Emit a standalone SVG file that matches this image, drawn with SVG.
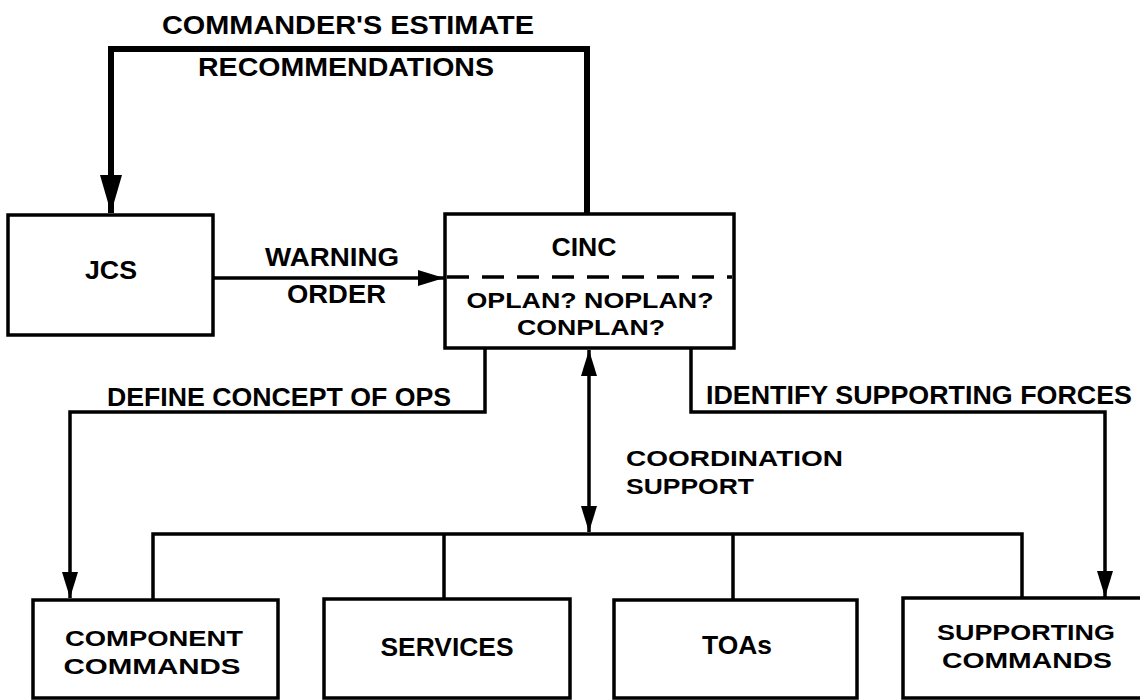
<svg xmlns="http://www.w3.org/2000/svg" width="1140" height="700" viewBox="0 0 1140 700">
<defs>
<style>
.box{fill:#fff;stroke:#000;stroke-width:3.5}
.ln{fill:none;stroke:#000;stroke-width:3.5}
.thick{fill:none;stroke:#000;stroke-width:6}
.dash{fill:none;stroke:#000;stroke-width:3.5;stroke-dasharray:22 13}
text{font-family:"Liberation Sans",Arial,Helvetica,sans-serif;font-weight:bold;font-size:25px;fill:#000}
.c{text-anchor:middle}
.s{font-size:22.5px}
</style>
<marker id="arr" markerUnits="userSpaceOnUse" markerWidth="27" markerHeight="16" refX="26" refY="8" orient="auto-start-reverse">
<path d="M0,0 L26,8 L0,16 z" fill="#000"/>
</marker>
<marker id="arrBig" markerUnits="userSpaceOnUse" markerWidth="39" markerHeight="22" refX="38" refY="11" orient="auto">
<path d="M0,0 L38,11 L0,22 z" fill="#000"/>
</marker>
</defs>
<rect width="1140" height="700" fill="#fff"/>

<g id="connectors">
<path class="thick" d="M587,214 V49 H111 V213" marker-end="url(#arrBig)"/>
<path class="ln" d="M213,278 H444" marker-end="url(#arr)"/>
<path class="ln" d="M485,348 V412 H70 V598" marker-end="url(#arr)"/>
<path class="ln" d="M691,348 V412 H1105 V597" marker-end="url(#arr)"/>
<path class="ln" d="M589,350 V532" marker-start="url(#arr)" marker-end="url(#arr)"/>
<path class="ln" d="M153,600 V534 H1022 V600"/>
<path class="ln" d="M444,534 V600"/>
<path class="ln" d="M733,534 V600"/>
</g>

<g id="labels">
<text class="c" x="348" y="34" textLength="372" lengthAdjust="spacingAndGlyphs">COMMANDER'S ESTIMATE</text>
<text class="c" x="346" y="76" textLength="296" lengthAdjust="spacingAndGlyphs">RECOMMENDATIONS</text>
<text x="265" y="266" textLength="134" lengthAdjust="spacingAndGlyphs">WARNING</text>
<text x="287" y="303" textLength="99" lengthAdjust="spacingAndGlyphs">ORDER</text>
<text x="107" y="406" textLength="344" lengthAdjust="spacingAndGlyphs">DEFINE CONCEPT OF OPS</text>
<text x="706" y="404" textLength="426" lengthAdjust="spacingAndGlyphs">IDENTIFY SUPPORTING FORCES</text>
<text class="s" x="626" y="466" textLength="217" lengthAdjust="spacingAndGlyphs">COORDINATION</text>
<text class="s" x="626" y="494" textLength="128" lengthAdjust="spacingAndGlyphs">SUPPORT</text>
</g>

<g id="jcs">
<rect class="box" x="8" y="215" width="205" height="120"/>
<text class="c" x="111" y="279" textLength="52" lengthAdjust="spacingAndGlyphs">JCS</text>
</g>

<g id="cinc">
<rect class="box" x="445" y="214" width="289" height="134"/>
<path class="dash" d="M447,277 H732"/>
<text class="c" x="584" y="256" textLength="65" lengthAdjust="spacingAndGlyphs">CINC</text>
<text class="c s" x="590" y="308" textLength="247" lengthAdjust="spacingAndGlyphs">OPLAN? NOPLAN?</text>
<text class="c s" x="591" y="335" textLength="148" lengthAdjust="spacingAndGlyphs">CONPLAN?</text>
</g>

<g id="component-commands">
<rect class="box" x="33" y="600" width="245" height="98"/>
<text class="c s" x="154" y="646" textLength="178" lengthAdjust="spacingAndGlyphs">COMPONENT</text>
<text class="c s" x="152" y="674" textLength="177" lengthAdjust="spacingAndGlyphs">COMMANDS</text>
</g>

<g id="services">
<rect class="box" x="324" y="599" width="246" height="99"/>
<text class="c" x="447" y="656" textLength="133" lengthAdjust="spacingAndGlyphs">SERVICES</text>
</g>

<g id="toas">
<rect class="box" x="614" y="600" width="243" height="98"/>
<text class="c" x="737" y="654" textLength="70" lengthAdjust="spacingAndGlyphs">TOAs</text>
</g>

<g id="supporting-commands">
<rect class="box" x="903" y="598" width="250" height="100"/>
<text class="c s" x="1026" y="640" textLength="178" lengthAdjust="spacingAndGlyphs">SUPPORTING</text>
<text class="c s" x="1027" y="668" textLength="170" lengthAdjust="spacingAndGlyphs">COMMANDS</text>
</g>
</svg>
